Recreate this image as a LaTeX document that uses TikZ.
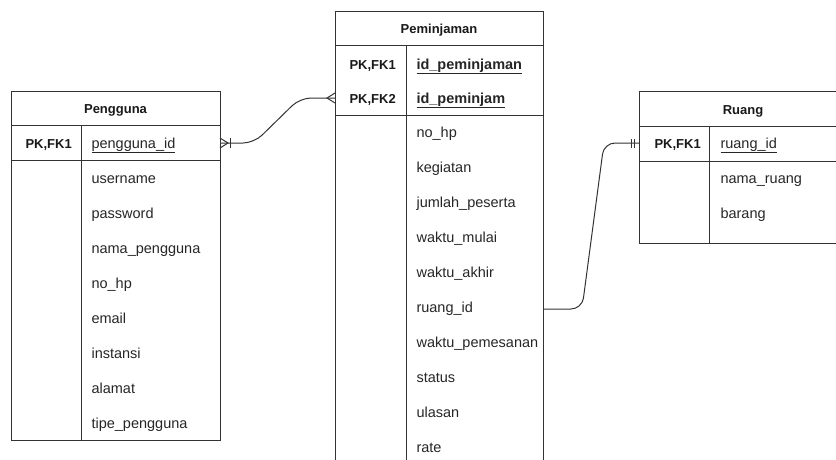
\documentclass[tikz,border=0pt]{standalone}
\usepackage{fontspec}
\setmainfont{Liberation Sans}
\usetikzlibrary{positioning}
\tikzset{
    tablebox/.style={draw=black!80, line width=1pt},
    title/.style={anchor=base, font=\fontsize{13}{15}\selectfont\bfseries, text=black!90},
    keylabel/.style={anchor=base west, font=\fontsize{13}{15}\selectfont\bfseries, text=black!90},
    field/.style={anchor=base west, font=\fontsize{14.5}{16}\selectfont, text=black!85},
    relation/.style={draw=black!80, line width=1pt, rounded corners=11pt},
    marker/.style={draw=black!80, line width=1pt}
}

\begin{document}
\begin{tikzpicture}[x=1pt, y=-1pt]
    \useasboundingbox (0,0) rectangle (836,459);
    \clip (0,0) rectangle (836,459);

    % Pengguna table
    \draw[tablebox] (11,91) rectangle (220,440);
    \draw[tablebox] (11,125) -- (220,125);
    \draw[tablebox] (11,160) -- (220,160);
    \draw[tablebox] (81,125) -- (81,440);
    \node[title] (pgtitle) at (115.5,113) {Pengguna};
    \node[keylabel] (pgkey) at (22,148) {PK,FK1};
    \node[field] (pgid) at (88,148) {\underline{pengguna\_id}};
    \node[field] (pguser) at (88,183) {username};
    \node[field] (pgpass) at (88,218) {password};
    \node[field] (pgname) at (88,253) {nama\_pengguna};
    \node[field] (pghp) at (88,288) {no\_hp};
    \node[field] (pgmail) at (88,323) {email};
    \node[field] (pginst) at (88,358) {instansi};
    \node[field] (pgaddr) at (88,393) {alamat};
    \node[field] (pgtype) at (88,428) {tipe\_pengguna};

    % Peminjaman table (runs past the bottom edge)
    \draw[tablebox] (335,480) -- (335,11) -- (543,11) -- (543,480);
    \draw[tablebox] (335,45) -- (543,45);
    \draw[tablebox] (335,115) -- (543,115);
    \draw[tablebox] (406,45) -- (406,480);
    \node[title] (pjtitle) at (439,33) {Peminjaman};
    \node[keylabel] (pjkey1) at (346,69) {PK,FK1};
    \node[keylabel] (pjkey2) at (346,103) {PK,FK2};
    \node[field] (pjid) at (413,69) {\textbf{\underline{id\_peminjaman}}};
    \node[field] (pjpeminjam) at (413,103) {\textbf{\underline{id\_peminjam}}};
    \node[field] (pjhp) at (413,137) {no\_hp};
    \node[field] (pjkeg) at (413,172) {kegiatan};
    \node[field] (pjjml) at (413,207) {jumlah\_peserta};
    \node[field] (pjmulai) at (413,242) {waktu\_mulai};
    \node[field] (pjakhir) at (413,277) {waktu\_akhir};
    \node[field] (pjruang) at (413,312) {ruang\_id};
    \node[field] (pjpesan) at (413,347) {waktu\_pemesanan};
    \node[field] (pjstatus) at (413,382) {status};
    \node[field] (pjulasan) at (413,417) {ulasan};
    \node[field] (pjrate) at (413,452) {rate};

    % Ruang table (runs past the right edge)
    \draw[tablebox] (639,91) rectangle (847,243);
    \draw[tablebox] (639,126) -- (847,126);
    \draw[tablebox] (639,161) -- (847,161);
    \draw[tablebox] (709,126) -- (709,243);
    \node[title] (rgtitle) at (743,114) {Ruang};
    \node[keylabel] (rgkey) at (651,148) {PK,FK1};
    \node[field] (rgid) at (717,148) {\underline{ruang\_id}};
    \node[field] (rgname) at (717,183) {nama\_ruang};
    \node[field] (rgitem) at (717,218) {barang};

    % Connector ends on the table edges
    \coordinate (pgidend) at (220,143);
    \coordinate (pjpeminjamend) at (335,98);
    \coordinate (pjruangend) at (543,309);
    \coordinate (rgidend) at (639,143);

    % Pengguna -- Peminjaman
    \draw[relation] (pgidend) -- (254,143) -- (300,98) -- (pjpeminjamend);
    \draw[marker] ([yshift=-5]pgidend) -- ([xshift=8]pgidend) -- ([yshift=5]pgidend);
    \draw[marker] ([xshift=10,yshift=-5]pgidend) -- ([xshift=10,yshift=5]pgidend);
    \draw[marker] ([yshift=-5]pjpeminjamend) -- ([xshift=-8]pjpeminjamend) -- ([yshift=5]pjpeminjamend);

    % Peminjaman -- Ruang
    \draw[relation] (pjruangend) -- (582,309) -- (604,143) -- (rgidend);
    \draw[marker] ([xshift=-8,yshift=-5]rgidend) -- ([xshift=-8,yshift=4]rgidend);
    \draw[marker] ([xshift=-5,yshift=-5]rgidend) -- ([xshift=-5,yshift=4]rgidend);
\end{tikzpicture}
\end{document}
